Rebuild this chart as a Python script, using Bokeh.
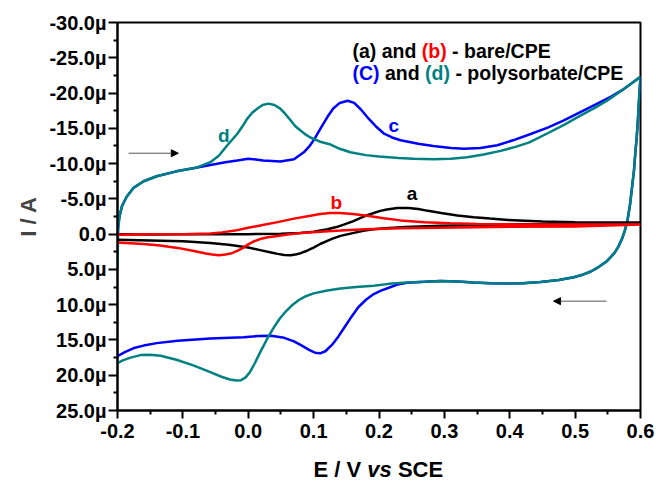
from bokeh.plotting import figure
from bokeh.layouts import column
from bokeh.models import (Range1d, FixedTicker, CustomJSTickFormatter, Label,
                          Arrow, NormalHead)
from bokeh.embed import file_html
from bokeh.resources import INLINE

# Cyclic voltammograms (potential in V vs SCE, current in microamps;
# the current axis runs with anodic/negative values at the top).

# (c) polysorbate/CPE, blue: forward then reverse sweep
c_E = [-0.200, -0.199, -0.197, -0.193, -0.186, -0.175, -0.160, -0.140, -0.110, -0.080,
       -0.058, -0.035, -0.017, 0.000, 0.023, 0.049, 0.070, 0.085, 0.093, 0.100,
       0.110, 0.121, 0.130, 0.140, 0.152, 0.162, 0.172, 0.182, 0.195, 0.207,
       0.220, 0.233, 0.260, 0.283, 0.310, 0.330, 0.355, 0.381, 0.405, 0.432,
       0.458, 0.482, 0.508, 0.534, 0.555, 0.575, 0.600,
       0.598, 0.596, 0.594, 0.592, 0.590, 0.587, 0.584, 0.580, 0.576, 0.572,
       0.566, 0.560, 0.549, 0.537, 0.524, 0.510, 0.498, 0.475, 0.447, 0.420,
       0.397, 0.370, 0.345, 0.320, 0.294, 0.270, 0.243, 0.228, 0.215, 0.203,
       0.192, 0.180, 0.168, 0.158, 0.148, 0.138, 0.128, 0.118, 0.110, 0.102,
       0.093, 0.082, 0.070, 0.055, 0.035, 0.015, -0.007, -0.058, -0.108, -0.140,
       -0.160, -0.175, -0.188, -0.200]
c_I = [0.5, -1.0, -2.5, -4.0, -5.3, -6.6, -7.5, -8.2, -8.9, -9.4,
       -9.8, -10.2, -10.45, -10.7, -10.45, -10.3, -10.6, -11.6, -12.4, -13.3,
       -14.9, -16.6, -17.8, -18.6, -18.9, -18.6, -17.7, -16.6, -15.3, -14.3,
       -13.7, -13.3, -12.8, -12.5, -12.2, -12.1, -12.2, -12.6, -13.3, -14.2,
       -15.1, -16.1, -17.3, -18.5, -19.5, -20.6, -22.3,
       -19.5, -16.1, -13.5, -11.4, -9.0, -6.6, -4.2, -1.9, -0.5, 0.6,
       1.8, 2.7, 3.8, 4.6, 5.3, 5.8, 6.1, 6.5, 6.8, 6.95,
       7.0, 6.95, 6.85, 6.7, 6.65, 6.75, 6.9, 7.15, 7.6, 8.0,
       8.5, 9.3, 10.4, 11.7, 13.1, 14.5, 15.7, 16.6, 16.9, 16.8,
       16.4, 15.8, 15.2, 14.7, 14.4, 14.45, 14.6, 14.8, 15.1, 15.45,
       15.8, 16.15, 16.7, 17.3]

# (d) polysorbate/CPE, teal
d_E = [-0.200, -0.1995, -0.199, -0.197, -0.193, -0.186, -0.175, -0.160, -0.140, -0.110,
       -0.080, -0.058, -0.045, -0.032, -0.017, -0.008, -0.002, 0.006, 0.014, 0.022,
       0.031, 0.040, 0.049, 0.057, 0.065, 0.072, 0.080, 0.088, 0.095, 0.110,
       0.126, 0.140, 0.156, 0.180, 0.200, 0.230, 0.253, 0.283, 0.310, 0.335,
       0.360, 0.386, 0.410, 0.430, 0.458, 0.483, 0.508, 0.530, 0.550, 0.575,
       0.600,
       0.598, 0.596, 0.594, 0.592, 0.590, 0.587, 0.584, 0.580, 0.576, 0.572,
       0.566, 0.560, 0.549, 0.537, 0.524, 0.510, 0.498, 0.475, 0.447, 0.420,
       0.397, 0.370, 0.345, 0.320, 0.294, 0.270, 0.243, 0.215, 0.192, 0.165,
       0.141, 0.121, 0.100, 0.088, 0.078, 0.068, 0.058, 0.048, 0.038, 0.028,
       0.018, 0.010, 0.003, -0.004, -0.011, -0.018, -0.028, -0.040, -0.060, -0.084,
       -0.110, -0.134, -0.150, -0.165, -0.180, -0.192, -0.200]
d_I = [5.0, 2.0, -1.0, -2.5, -4.0, -5.3, -6.6, -7.5, -8.2, -8.9,
       -9.4, -10.2, -11.1, -12.6, -14.2, -15.4, -16.3, -17.2, -17.8, -18.3,
       -18.5, -18.3, -17.8, -17.0, -16.1, -15.3, -14.7, -14.1, -13.7, -13.1,
       -12.7, -12.1, -11.6, -11.2, -11.0, -10.8, -10.7, -10.6, -10.7, -10.9,
       -11.3, -11.8, -12.4, -13.0, -14.3, -15.5, -16.8, -17.9, -19.0, -20.6,
       -22.3,
       -19.5, -16.1, -13.5, -11.4, -9.0, -6.6, -4.2, -1.9, -0.5, 0.6,
       1.8, 2.7, 3.8, 4.6, 5.3, 5.8, 6.1, 6.5, 6.8, 6.95,
       7.0, 6.95, 6.85, 6.7, 6.65, 6.75, 6.85, 7.05, 7.3, 7.5,
       7.7, 8.0, 8.4, 8.8, 9.3, 10.0, 10.9, 12.0, 13.4, 15.0,
       16.8, 18.3, 19.5, 20.3, 20.7, 20.75, 20.6, 20.25, 19.5, 18.6,
       17.8, 17.25, 17.1, 17.15, 17.5, 17.9, 18.3]

# (a) bare/CPE, black
a_E = [-0.200, -0.150, -0.100, -0.050, 0.000, 0.050, 0.080, 0.100, 0.121, 0.135,
       0.146, 0.160, 0.172, 0.182, 0.192, 0.202, 0.212, 0.228, 0.245, 0.260,
       0.275, 0.295, 0.320, 0.345, 0.370, 0.397, 0.450, 0.500, 0.550, 0.600,
       0.500, 0.400, 0.294, 0.240, 0.210, 0.192, 0.178, 0.165, 0.153, 0.141,
       0.130, 0.120, 0.110, 0.100, 0.090, 0.080, 0.072, 0.065, 0.055, 0.045,
       0.035, 0.020, 0.000, -0.030, -0.058, -0.100, -0.150, -0.200]
a_I = [0.0, 0.05, 0.0, 0.0, 0.0, -0.05, -0.15, -0.35, -0.7, -1.0,
       -1.35, -1.8, -2.3, -2.7, -3.0, -3.3, -3.5, -3.7, -3.7, -3.55,
       -3.3, -3.0, -2.65, -2.4, -2.2, -2.0, -1.8, -1.7, -1.65, -1.65,
       -1.5, -1.35, -1.2, -1.0, -0.85, -0.7, -0.5, -0.25, 0.0, 0.25,
       0.6, 1.0, 1.4, 1.9, 2.35, 2.7, 2.9, 3.0, 2.95, 2.8,
       2.6, 2.3, 1.9, 1.5, 1.25, 1.0, 0.9, 0.8]

# (b) bare/CPE, red
b_E = [-0.200, -0.150, -0.100, -0.058, -0.040, -0.020, 0.000, 0.020, 0.045, 0.070,
       0.095, 0.110, 0.125, 0.140, 0.160, 0.182, 0.207, 0.233, 0.270, 0.309,
       0.350, 0.400, 0.450, 0.520, 0.600,
       0.500, 0.400, 0.320, 0.233, 0.180, 0.141, 0.110, 0.080, 0.060, 0.045,
       0.030, 0.018, 0.008, 0.000, -0.008, -0.016, -0.025, -0.035, -0.045, -0.055,
       -0.065, -0.085, -0.108, -0.135, -0.160, -0.200]
b_I = [0.1, 0.0, 0.0, -0.1, -0.25, -0.5, -0.9, -1.25, -1.7, -2.2,
       -2.6, -2.85, -2.98, -3.0, -2.85, -2.6, -2.25, -1.95, -1.7, -1.55,
       -1.45, -1.4, -1.38, -1.36, -1.35,
       -1.1, -1.05, -0.95, -0.85, -0.7, -0.5, -0.35, -0.15, 0.05, 0.25,
       0.45, 0.7, 1.05, 1.45, 1.95, 2.35, 2.7, 2.9, 2.98, 2.9,
       2.75, 2.35, 1.95, 1.6, 1.4, 1.2]

x_ticks = [-0.2, -0.1, 0.0, 0.1, 0.2, 0.3, 0.4, 0.5, 0.6]
x_minor = [-0.15, -0.05, 0.05, 0.15, 0.25, 0.35, 0.45, 0.55]
y_ticks = [-30, -25, -20, -15, -10, -5, 0, 5, 10, 15, 20, 25]
y_minor = [-27.5, -22.5, -17.5, -12.5, -7.5, -2.5, 2.5, 7.5, 12.5, 17.5, 22.5]

BLUE = "#0000FF"
TEAL = "#008080"
RED = "#FF0000"
BLACK = "#000000"
FONT = "Liberation Sans"

p = figure(width=656, height=455, output_backend="svg", toolbar_location=None,
           x_range=Range1d(-0.2, 0.6), y_range=Range1d(25, -30),
           min_border_left=117, min_border_right=16, min_border_top=22,
           min_border_bottom=45)
p.grid.visible = False
p.background_fill_color = "white"
p.border_fill_color = "white"
p.outline_line_color = "black"
p.outline_line_width = 2

# curves
p.line(c_E, c_I, line_color=BLUE, line_width=2.5)
p.line(d_E, d_I, line_color=TEAL, line_width=2.5)
p.line(a_E, a_I, line_color=BLACK, line_width=2.5)
p.line(b_E, b_I, line_color=RED, line_width=2.5)

# axes
p.xaxis.ticker = FixedTicker(ticks=x_ticks, minor_ticks=x_minor)
p.yaxis.ticker = FixedTicker(ticks=y_ticks, minor_ticks=y_minor)
p.xaxis.formatter = CustomJSTickFormatter(code="return tick.toFixed(1);")
p.yaxis.formatter = CustomJSTickFormatter(
    code="return Math.abs(tick) < 1e-9 ? '0.0' : tick.toFixed(1) + '\\u00b5';")
for ax in (p.xaxis, p.yaxis):
    ax.axis_line_width = 2
    ax.major_tick_line_width = 2
    ax.minor_tick_line_width = 2
    ax.major_tick_in = 0
    ax.minor_tick_in = 0
    ax.minor_tick_out = 4
    ax.major_label_text_font = FONT
    ax.major_label_text_font_style = "bold"
    ax.major_label_text_font_size = "20px"
    ax.major_label_text_color = "black"
p.xaxis.major_tick_out = 8
p.yaxis.major_tick_out = 9
p.xaxis.major_label_standoff = 5
p.yaxis.major_label_standoff = 2

p.yaxis.axis_label = "I / A"
p.yaxis.axis_label_text_font = FONT
p.yaxis.axis_label_text_font_style = "bold"
p.yaxis.axis_label_text_font_size = "22px"
p.yaxis.axis_label_standoff = 5


def add_text(fig, x, y, text, color=BLACK, size="19.5px", style="bold",
             align="left", baseline="alphabetic"):
    fig.add_layout(Label(x=x, y=y, text=text, text_color=color, text_font=FONT,
                         text_font_style=style, text_font_size=size,
                         text_align=align, text_baseline=baseline))


# curve letters
add_text(p, -0.0374, -13.98, "d", color=TEAL, size="19px", align="center")
add_text(p, 0.2227, -15.40, "c", color=BLUE, size="19px", align="center")
add_text(p, 0.1345, -4.53, "b", color=RED, size="19px", align="center")
add_text(p, 0.2507, -5.72, "a", color=BLACK, size="19px", align="center")

# key text
add_text(p, 0.1595, -25.89, "(a) and")
add_text(p, 0.2655, -25.89, "(b)", color=RED)
add_text(p, 0.3118, -25.89, "- bare/CPE")
add_text(p, 0.1595, -22.81, "(C)", color=BLUE)
add_text(p, 0.2092, -22.81, "and")
add_text(p, 0.2705, -22.81, "(d)", color=TEAL)
add_text(p, 0.3169, -22.81, "- polysorbate/CPE")

# sweep direction arrows
p.add_layout(Arrow(end=NormalHead(size=7, fill_color="black", line_color="black"),
                   x_start=-0.183, y_start=-11.47, x_end=-0.107, y_end=-11.47,
                   line_color="#555555", line_width=1))
p.add_layout(Arrow(end=NormalHead(size=7, fill_color="black", line_color="black"),
                   x_start=0.548, y_start=9.5, x_end=0.467, y_end=9.5,
                   line_color="#555555", line_width=1))

# strip under the plot carrying the potential-axis title (italic "vs");
# its frame spans the same horizontal extent as the plot frame above
t = figure(frame_width=523, frame_height=26, output_backend="svg",
           toolbar_location=None, title=None,
           x_range=p.x_range, y_range=Range1d(0, 26),
           x_axis_location=None, y_axis_location=None,
           min_border=0, min_border_left=117, min_border_right=16,
           min_border_top=0, min_border_bottom=0)
t.grid.visible = False
t.outline_line_color = None
t.background_fill_color = "white"
t.border_fill_color = "white"
add_text(t, 0.0998, 12, "E / V", size="22px")
add_text(t, 0.1821, 12, "vs", size="22px", style="bold italic")
add_text(t, 0.2289, 12, "SCE", size="22px")

layout = column(p, t, spacing=0)
open("out.html", "w", encoding="utf-8").write(file_html(layout, INLINE))
